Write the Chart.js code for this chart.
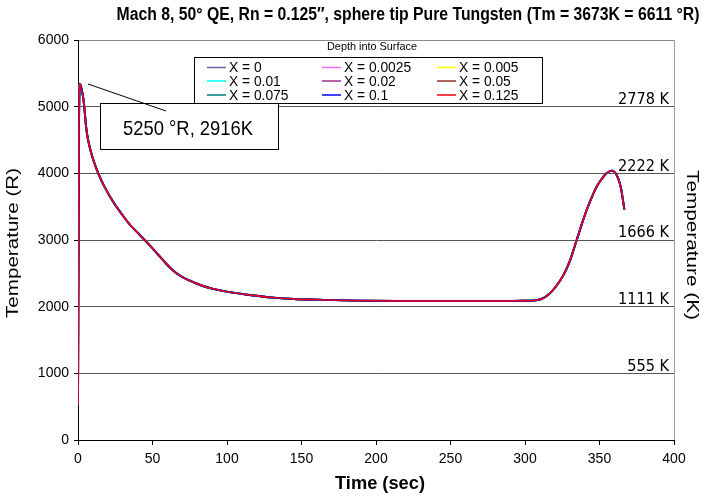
<!DOCTYPE html>
<html lang="en">
  <head>
    <meta charset="UTF-8" />
    <title>Mach 8 sphere tip</title>
    <style>
      html, body { margin: 0; padding: 0; background: #fff; }
      #wrap { width: 705px; height: 497px; }
    </style>
  </head>
  <body>
    <div id="wrap">
      <canvas id="myChart" width="705" height="497"></canvas>
    </div>
    <script src="https://cdn.jsdelivr.net/npm/chart.js@4.4.1/dist/chart.umd.min.js"></script>
    <script>
      // time (sec) and temperature (R)
      const time = [0, 0.6, 1.3, 2, 3.6, 5.8, 8, 10.3, 13.6, 18, 23.7, 29, 35, 40, 45, 50, 55, 60, 65, 70, 75, 82, 90, 104, 115, 131, 145, 160, 187, 214, 250, 280, 300, 307, 311, 314.5, 318, 321, 325.7, 330, 334.7, 338, 341.4, 345, 348.1, 351, 354.8, 358.2, 361.5, 364.2, 366.7];
      const tempR = [530, 4500, 5340, 5300, 5120, 4630, 4380, 4200, 4000, 3790, 3570, 3400, 3225, 3110, 2995, 2875, 2750, 2625, 2520, 2445, 2390, 2325, 2270, 2210, 2175, 2135, 2115, 2105, 2090, 2085, 2085, 2085, 2088, 2095, 2115, 2160, 2230, 2310, 2470, 2680, 3000, 3230, 3450, 3650, 3800, 3900, 4000, 4040, 3975, 3800, 3460];

      const depths = ["X = 0", "X = 0.0025", "X = 0.005", "X = 0.01", "X = 0.02", "X = 0.05", "X = 0.075", "X = 0.1", "X = 0.125"];
      const colors = ["#6666aa", "#ff66ff", "#ffff00", "#00ffff", "#993399", "#993333", "#008080", "#0000ff", "#ff0000"];

      const yTicks = [0, 1000, 2000, 3000, 4000, 5000, 6000];
      const kLabels = ["555 K", "1111 K", "1666 K", "2222 K", "2778 K"];
      const kAt = [1000, 2000, 3000, 4000, 5000];

      const NARROW = '"Liberation Sans Narrow", "Arial Narrow", "Liberation Sans", Arial, sans-serif';
      const SANS = '"Liberation Sans", Arial, sans-serif';

      // draw text squeezed/stretched to a given width
      function fitText(ctx, txt, x, y, font, w, rot) {
        ctx.save();
        ctx.font = font;
        ctx.textAlign = "center";
        ctx.textBaseline = "middle";
        const m = ctx.measureText(txt).width;
        ctx.translate(x, y);
        if (rot) ctx.rotate(rot);
        ctx.scale(w / m, 1);
        ctx.fillText(txt, 0, 0);
        ctx.restore();
      }

      const extras = {
        id: "extras",
        afterDraw(chart) {
          const c = chart.ctx;
          const a = chart.chartArea;
          const ys = chart.scales.y;
          c.save();
          c.fillStyle = "#000";

          // right border
          c.strokeStyle = "#a0a0a0";
          c.lineWidth = 1;
          c.beginPath();
          c.moveTo(a.right + 0.5, a.top);
          c.lineTo(a.right + 0.5, a.bottom);
          c.stroke();

          // titles
          fitText(c, "Mach 8, 50° QE, Rn = 0.125″, sphere tip Pure Tungsten (Tm = 3673K = 6611 °R)", 408, 15, "bold 18px " + NARROW, 583);
          fitText(c, "Temperature (R)", 13, 243, "17px " + SANS, 150, -Math.PI / 2);
          fitText(c, "Temperature (K)", 692, 245, "17px " + SANS, 150, Math.PI / 2);
          fitText(c, "Time (sec)", 380, 484, "bold 19px " + NARROW, 90);

          // Kelvin labels above grid lines
          c.font = '15px "DejaVu Sans Condensed", "DejaVu Sans", sans-serif';
          c.textAlign = "right";
          c.textBaseline = "bottom";
          const kScale = 51 / c.measureText("2778 K").width;
          kLabels.forEach((t, i) => {
            const y = ys.getPixelForValue(kAt[i]);
            c.save();
            c.translate(a.right - 5, y + 1);
            c.scale(kScale, 1);
            c.fillText(t, 0, 0);
            c.restore();
          });

          // legend
          fitText(c, "Depth into Surface", 372, 47, "11px " + SANS, 90);
          c.strokeStyle = "#000";
          c.lineWidth = 1;
          c.strokeRect(194.5, 57.5, 348, 46);
          const colX = [207, 322, 437];
          const rowY = [67.5, 81, 95];
          chart.data.datasets.forEach((ds, i) => {
            const cx = colX[i % 3];
            const cy = rowY[Math.floor(i / 3)];
            c.strokeStyle = ds.borderColor;
            c.lineWidth = 1.5;
            c.beginPath();
            c.moveTo(cx, cy);
            c.lineTo(cx + 19, cy);
            c.stroke();
            c.font = "15px " + SANS;
            c.textAlign = "left";
            c.textBaseline = "middle";
            c.save();
            c.translate(cx + 22, cy + 0.5);
            c.scale(0.92, 1);
            c.fillText(ds.label, 0, 0);
            c.restore();
          });

          // annotation box and pointer
          c.strokeStyle = "#000";
          c.lineWidth = 1;
          c.fillStyle = "#fff";
          c.fillRect(100, 103.5, 178, 46);
          c.strokeRect(100.5, 103.5, 178, 46);
          c.fillStyle = "#000";
          fitText(c, "5250 °R, 2916K", 188, 129, "21px " + NARROW, 130);
          c.beginPath();
          c.moveTo(88, 84);
          c.lineTo(166, 111);
          c.stroke();
          c.restore();
        },
      };

      const ctx = document.getElementById("myChart").getContext("2d");

      // red (last) series drawn on top, as in the reference
      const datasets = depths.map((label, i) => ({
        label: label,
        data: time.map((t, k) => ({ x: t, y: tempR[k] })),
        borderColor: colors[i],
        backgroundColor: colors[i],
        borderWidth: i === depths.length - 1 ? 1.4 : 1.9,
        order: depths.length - i,
        pointRadius: 0,
        showLine: true,
        cubicInterpolationMode: "monotone",
        fill: false,
      }));

      const myChart = new Chart(ctx, {
        type: "scatter",
        data: { datasets: datasets },
        options: {
          responsive: false,
          animation: false,
          events: [],
          layout: { padding: { top: 40, right: 31, left: 0, bottom: 0 } },
          plugins: {
            legend: { display: false },
            tooltip: { enabled: false },
          },
          scales: {
            x: {
              type: "linear",
              min: 0,
              max: 400,
              afterFit: (s) => { s.height = 57; },
              ticks: {
                stepSize: 50,
                color: "#000",
                padding: 6,
                maxRotation: 0,
                font: { family: SANS, size: 14 },
              },
              grid: {
                drawOnChartArea: false,
                drawTicks: true,
                tickLength: 5,
                tickColor: "#000",
              },
              border: { color: "#000", width: 1 },
            },
            y: {
              min: 0,
              max: 6000,
              afterFit: (s) => { s.width = 78; },
              afterBuildTicks: (s) => { s.ticks = yTicks.map((v) => ({ value: v })); },
              ticks: {
                color: "#000",
                padding: 5,
                font: { family: SANS, size: 14 },
                callback: (v) => String(v),
              },
              grid: {
                color: (c) => (c.tick && c.tick.value === 6000 ? "#8a8a8a" : c.tick && c.tick.value === 0 ? "#000" : "#555"),
                tickColor: "#000",
                tickLength: 4,
                lineWidth: 1,
              },
              border: { color: "#000", width: 1 },
            },
          },
        },
        plugins: [extras],
      });
    </script>
  </body>
</html>
